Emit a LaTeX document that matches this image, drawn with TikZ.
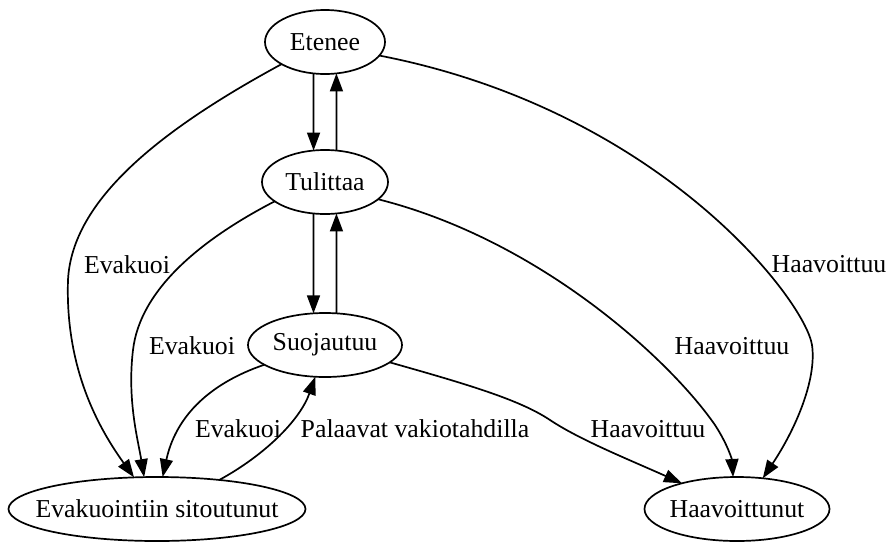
\documentclass[tikz,border=0pt]{standalone}
\usepackage{fontspec}
\setmainfont{Liberation Serif}
\usetikzlibrary{arrows.meta,shapes.geometric}
\tikzset{
  state/.style={draw, ellipse, line width=1.7pt, inner sep=0pt, outer sep=0pt,
    minimum height=64pt, font=\fontsize{25.8pt}{28pt}\selectfont},
  edge/.style={draw, line width=1.7pt, -{Triangle[length=18pt,width=13pt]}},
  lbl/.style={inner sep=0pt, font=\fontsize{25.8pt}{28pt}\selectfont}
}
\newcommand{\zw}[1]{\makebox[0pt]{#1}}
\begin{document}
\begin{tikzpicture}[x=1pt,y=-1pt]
\useasboundingbox (0,0) rectangle (887,542);
\node[state, minimum width=120pt] (E) at (325,42) {\zw{Etenee}};
\node[state, minimum width=126pt] (T) at (325,182) {\zw{Tulittaa}};
\node[state, minimum width=154pt] (S) at (325,345) {\zw{Suojautuu}};
\node[state, minimum width=297pt] (V) at (157,509) {\zw{Evakuointiin sitoutunut}};
\node[state, minimum width=185pt] (H) at (737,509) {\zw{Haavoittunut}};

% vertical pairs
\draw[edge] (E.250) -- (T.110);
\draw[edge] (T.70) -- (E.290);
\draw[edge] (T.250) -- (S.110);
\draw[edge] (S.70) -- (T.290);

% to Evakuointiin
\draw[edge] (E.207) .. controls (160,130) and (72,200) .. (68,280)
  .. controls (65,370) and (100,430) .. (V.126);
\draw[edge] (T.201) .. controls (200,240) and (140,290) .. (133,350)
  .. controls (127,400) and (138,440) .. (V.112);
\draw[edge] (S.198) .. controls (205,385) and (175,420) .. (V.80);
\draw[edge] (V.25) .. controls (265,455) and (300,420) .. (S.253);

% to Haavoittunut
\draw[edge] (E.346) .. controls (660,110) and (805,300) .. (812,345)
  .. controls (817,380) and (795,430) .. (H.50);
\draw[edge] (T.342) .. controls (540,240) and (670,360) .. (715,425)
  .. controls (728,445) and (732,460) .. (H.97);
\draw[edge] (S.345) .. controls (470,385) and (520,400) .. (550,420)
  .. controls (580,440) and (630,460) .. (H.155);

% labels
\node[lbl] (l1) at (127,265) {Evakuoi};
\node[lbl] (l2) at (192,346) {Evakuoi};
\node[lbl] (l3) at (238,429) {Evakuoi};
\node[lbl] (l4) at (415,429) {Palaavat vakiotahdilla};
\node[lbl] (l5) at (829,264) {Haavoittuu};
\node[lbl] (l6) at (732,346) {Haavoittuu};
\node[lbl] (l7) at (648,429) {Haavoittuu};
\end{tikzpicture}
\end{document}
